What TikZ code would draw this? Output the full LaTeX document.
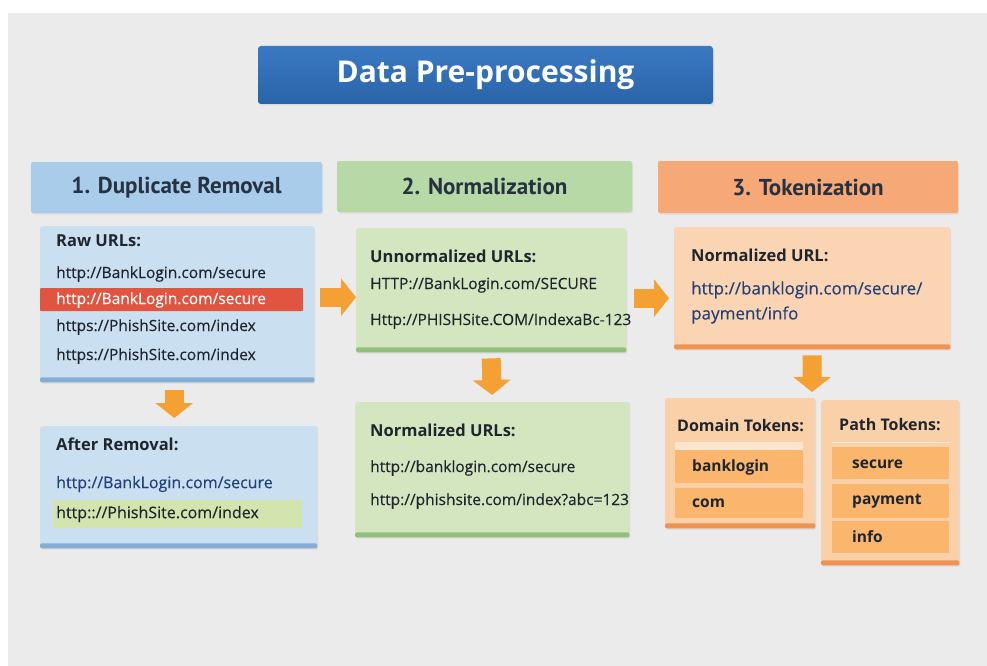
\documentclass[tikz,border=0pt]{standalone}
\usepackage{fontspec}
\setmainfont{Open Sans}
\newfontfamily\headfont{PT Sans}
\newfontfamily\urlfont[FakeBold=0.3]{Open Sans}
\usetikzlibrary{arrows.meta,shadows,calc}
\definecolor{bg}{HTML}{ECEBEB}
\definecolor{titletop}{HTML}{3A79C2}
\definecolor{titlebot}{HTML}{2A64A8}
\definecolor{hblue}{HTML}{A8CCEA}
\definecolor{hgreen}{HTML}{B7D9A5}
\definecolor{horange}{HTML}{F7A877}
\definecolor{headtext}{HTML}{263142}
\definecolor{cblue}{HTML}{CADFF0}
\definecolor{sblue}{HTML}{86AED3}
\definecolor{cgreen}{HTML}{D4E6C0}
\definecolor{sgreen}{HTML}{92C07A}
\definecolor{corange}{HTML}{FBD5B3}
\definecolor{sorange}{HTML}{EF9352}
\definecolor{redhl}{HTML}{E15540}
\definecolor{greenhl}{HTML}{D3E5AE}
\definecolor{linknavy}{HTML}{22407A}
\definecolor{bodytext}{HTML}{1E252D}
\definecolor{tokrow}{HTML}{F9B66C}
\definecolor{tokbox}{HTML}{FAD0A8}
\definecolor{arroworange}{HTML}{F5A033}
\begin{document}
\begin{tikzpicture}[x=1pt,y=-1pt,
  card/.style={anchor=north west,inner sep=0pt,rounded corners=2pt,
    drop shadow={shadow xshift=1pt,shadow yshift=-1.5pt,opacity=.15}},
  header/.style={anchor=center,inner sep=0pt,rounded corners=2pt,
    font=\headfont\bfseries\fontsize{23}{26}\selectfont,text=headtext,
    drop shadow={shadow xshift=1pt,shadow yshift=-1.5pt,opacity=.12}},
  lbl/.style={anchor=west,inner sep=0pt,font=\bfseries\fontsize{16.5}{19}\selectfont,text=bodytext},
  url/.style={anchor=west,inner sep=0pt,font=\urlfont\fontsize{15.5}{18}\selectfont,text=bodytext},
  tok/.style={anchor=west,inner sep=0pt,font=\bfseries\fontsize{15.5}{18}\selectfont,text=bodytext},
  fat/.style={draw=arroworange,line width=19pt,-{Triangle[width=37pt,length=15pt]}}]
\useasboundingbox (0,0) rectangle (987,666);
\fill[white] (0,0) rectangle (987,666);
\fill[bg] (8,13) rectangle (987,666);

% title
\node[anchor=center,inner sep=0pt,rounded corners=3pt,minimum width=455pt,minimum height=58pt,
  top color=titletop,bottom color=titlebot,
  font=\bfseries\fontsize{30}{33}\selectfont,text=white,
  drop shadow={shadow xshift=1pt,shadow yshift=-1.5pt,opacity=.15}]
  (title) at (485.5,75) {Data Pre-processing};

% headers
\node[header,fill=hblue,minimum width=291pt,minimum height=51pt] (h1) at (176.5,187.5) {1. Duplicate Removal};
\node[header,fill=hgreen,minimum width=295pt,minimum height=51pt] (h2) at (484.5,186.5) {2. Normalization};
\node[header,fill=horange,minimum width=300pt,minimum height=52pt] (h3) at (808,187) {3. Tokenization};

% cards
\node[card,fill=cblue,minimum width=274pt,minimum height=156pt] (A) at (40,226) {};
\node[card,fill=cgreen,minimum width=270pt,minimum height=124pt] (B) at (356,228) {};
\node[card,fill=corange,minimum width=276pt,minimum height=122pt] (C) at (674,227) {};
\node[card,fill=cblue,minimum width=277pt,minimum height=122pt] (D) at (40,426) {};
\node[card,fill=cgreen,minimum width=274pt,minimum height=135pt] (E) at (355,402) {};
\node[card,fill=tokbox,minimum width=150pt,minimum height=130pt] (F) at (665,398) {};
\node[card,fill=tokbox,minimum width=138pt,minimum height=165pt] (G) at (821,400) {};

% bottom stripes
\fill[sblue,rounded corners=1.5pt] (A.south west) rectangle ([yshift=5pt]A.south east);
\fill[sgreen,rounded corners=1.5pt] (B.south west) rectangle ([yshift=5pt]B.south east);
\fill[sorange,rounded corners=1.5pt] (C.south west) rectangle ([yshift=5pt]C.south east);
\fill[sblue,rounded corners=1.5pt] (D.south west) rectangle ([yshift=5pt]D.south east);
\fill[sgreen,rounded corners=1.5pt] (E.south west) rectangle ([yshift=5pt]E.south east);
\fill[sorange,rounded corners=1.5pt] (F.south west) rectangle ([yshift=5pt]F.south east);
\fill[sorange,rounded corners=1.5pt] (G.south west) rectangle ([yshift=5pt]G.south east);

% highlights
\fill[redhl,rounded corners=1pt] (40,288) rectangle (303,311);
\fill[greenhl] (53,500) rectangle (302,528);

% card A
\node[lbl] (a0) at (56,241) {Raw URLs:};
\node[url] (a1) at (56,274) {http://BankLogin.com/secure};
\node[url,text=white] (a2) at (56,300) {http://BankLogin.com/secure};
\node[url] (a3) at (56,327) {https://PhishSite.com/index};
\node[url] (a4) at (56,356) {https://PhishSite.com/index};

% card B
\node[lbl] (b0) at (370,256) {Unnormalized URLs:};
\node[url] (b1) at (370,285) {HTTP://BankLogin.com/SECURE};
\node[url] (b2) at (370,321) {Http://PHISHSite.COM/IndexaBc-123};

% card C
\node[lbl] (c0) at (691,255) {Normalized URL:};
\node[url,text=linknavy,font=\urlfont\fontsize{17}{20}\selectfont] (c1) at (691,290) {http://banklogin.com/secure/};
\node[url,text=linknavy,font=\urlfont\fontsize{17}{20}\selectfont] (c2) at (691,315) {payment/info};

% card D
\node[lbl] (d0) at (56,444) {After Removal:};
\node[url,text=linknavy,font=\urlfont\fontsize{16}{19}\selectfont] (d1) at (56,484) {http://BankLogin.com/secure};
\node[url,font=\urlfont\fontsize{16}{19}\selectfont] (d2) at (56,514) {http:://PhishSite.com/index};

% card E
\node[lbl] (e0) at (370,430) {Normalized URLs:};
\node[url] (e1) at (370,468) {http://banklogin.com/secure};
\node[url] (e2) at (370,501) {http://phishsite.com/index?abc=123};

% card F
\node[lbl,font=\bfseries\fontsize{16}{19}\selectfont] (f0) at (677,426) {Domain Tokens:};
\fill[white,opacity=.45] (675,442) rectangle (803,450);
\fill[tokrow] (675,450) rectangle (803,483);
\fill[tokrow] (675,488) rectangle (803,518);
\node[tok] (f1) at (692,467) {banklogin};
\node[tok] (f2) at (692,503) {com};

% card G
\node[lbl,font=\bfseries\fontsize{16}{19}\selectfont] (g0) at (839,425) {Path Tokens:};
\draw[white,opacity=.6,line width=1pt] (832,442) -- (949,442);
\fill[tokrow] (832,447) rectangle (949,479);
\fill[tokrow] (832,484) rectangle (949,518);
\fill[tokrow] (832,521) rectangle (949,553);
\node[tok] (g1) at (852,464) {secure};
\node[tok] (g2) at (852,501) {payment};
\node[tok] (g3) at (852,537) {info};

% arrows
\coordinate (fg) at (812,392);
\draw[fat] ([xshift=6pt,yshift=7pt]A.east) -- ([yshift=-7pt]B.west);
\draw[fat,shorten >=5pt] ([xshift=8pt,yshift=-8pt]B.east) -- ([yshift=-10pt]C.west);
\draw[fat] ([xshift=-3pt,yshift=-8pt]A.south) -- ([xshift=-4.5pt,yshift=8pt]D.north);
\draw[fat] ([yshift=-6pt]B.south) -- ([yshift=7pt]E.north);
\draw[fat] ([yshift=-6pt]C.south) -- (fg);
\end{tikzpicture}
\end{document}
